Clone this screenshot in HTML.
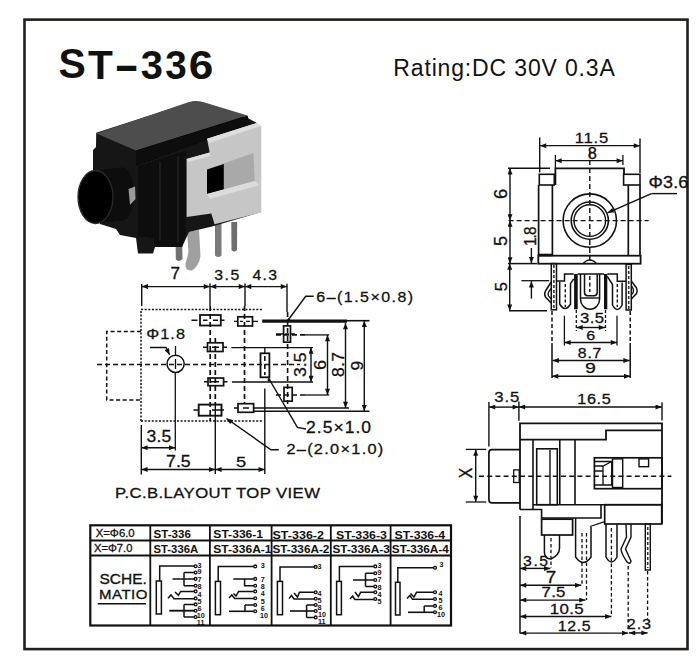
<!DOCTYPE html>
<html><head><meta charset="utf-8">
<style>
html,body{margin:0;padding:0;background:#fff;}
svg{display:block;}
text{font-family:"Liberation Sans",sans-serif;fill:#111;}
</style></head>
<body>
<svg width="700" height="660" viewBox="0 0 700 660">
<defs>
<marker id="ar" viewBox="0 0 10 8" refX="10" refY="4" markerWidth="7" markerHeight="5" orient="auto-start-reverse" markerUnits="userSpaceOnUse"><path d="M0,0 L10,4 L0,8 z" fill="#111"/></marker>
<filter id="bl" x="-5%" y="-5%" width="110%" height="110%"><feGaussianBlur stdDeviation="0.6"/></filter>
</defs>
<rect width="700" height="660" fill="#fff"/>
<rect x="24.5" y="19.6" width="663" height="629.5" fill="none" stroke="#231f1c" stroke-width="2.6"/>
<text x="393.3" y="75.6" font-size="23" textLength="221.5" lengthAdjust="spacing" fill="#1a1a1a">Rating:DC 30V 0.3A</text>
<g filter="url(#bl)">
<!-- pins -->
<path d="M175.5,232 L182,232 L182.5,259 Q179,262.5 175.8,259.5 Z" fill="#707070"/>
<path d="M187,232 L199,230 L200.5,256 Q199,266 192,270.5 Q185,271 185.5,264 L188.5,252 Z" fill="#a0a0a0"/>
<path d="M215,224 L221.5,224 L221.5,255.5 Q218.2,258.5 215,255.5 Z" fill="#7a7a7a"/>
<path d="M231.3,222 L237.2,222 L237,250 Q234.2,253 231.5,250 Z" fill="#6e6e6e"/>
<!-- black body -->
<path d="M96.2,132.8 L195,101 L247.5,118 L257,123 L261,212 L214,226 L189,232 L182,247 L155,247 L153,253.5 L138,253.5 L136,238 L120,235 L116,229 L100,224 L93,200 L93,150 L96,147 Z" fill="#191919"/>
<!-- jack cylinder -->
<path d="M95.5,170.5 L123,167.5 L123,220.5 L95.5,223.5 Z" fill="#0a0a0a"/>
<ellipse cx="123" cy="194" rx="11" ry="26.5" fill="#0a0a0a"/>
<ellipse cx="95.5" cy="197" rx="17.5" ry="26.5" fill="#060606" stroke="#2c2c2c" stroke-width="1.3"/>
<ellipse cx="97" cy="197.5" rx="12.5" ry="21.5" fill="#020202"/>
<path d="M128.5,189 L135,186.5 L135.5,199 L130,205 Z" fill="#9a9a9a"/>
<!-- front face -->
<path d="M137.7,166 L186.6,150 L186.6,232 L182,247 L155,247 L153,238 L137.7,237 Z" fill="#101010"/>
<path d="M160,162 L160,240 M178,156 L178,242" stroke="#242424" stroke-width="1"/>
<!-- top face -->
<path d="M96.4,133.4 L189,102 Q196,99.8 203,102 L247.5,115.5 L136,150.5 Z" fill="#4e4e4e"/>
<path d="M136,150.5 L247.5,115.5 L250,124 L136,166 Z" fill="#070707"/>
<!-- bracket -->
<path d="M207,138.7 L256.7,122.9 L261.3,126 L261.3,212.4 L214.6,224.2 L211.3,213.4 L186.6,217 L186.6,159 L209.7,152.5 Z" fill="#c6c6c6"/>
<path d="M207,138.7 L256.7,122.9 L261.3,126 L209,143 Z" fill="#dedede"/>
<path d="M186.6,159 L209.7,152.5 L210.5,156 L188.5,162 Z" fill="#dcdcdc"/>
<path d="M207,169.5 L253.4,153 L254.7,181 L207,194 Z" fill="#a9a9a9"/>
<path d="M207,169.5 L223.8,164 L223.8,189.5 L207,194 Z" fill="#040404"/>
<path d="M207,194 L254.7,181 L259.5,185 L210,199 Z" fill="#dcdcdc"/>
</g>

<g fill="none" stroke="#111" stroke-width="1.3">
<!-- 11.5 dim -->
<line x1="540" y1="145.7" x2="640" y2="145.7" marker-start="url(#ar)" marker-end="url(#ar)"/>
<line x1="539.7" y1="137.5" x2="539.7" y2="172.5" stroke-width="1.4"/>
<line x1="640" y1="138.5" x2="640" y2="173" stroke-width="1.4"/>
<!-- 8 dim -->
<line x1="555.4" y1="160.7" x2="622.9" y2="160.7" marker-start="url(#ar)" marker-end="url(#ar)"/>
<line x1="555.4" y1="155" x2="555.4" y2="168" stroke-width="1.3"/>
<line x1="622.9" y1="155" x2="622.9" y2="165" stroke-width="1.3"/>
<!-- top line -->
<line x1="508" y1="168.3" x2="550" y2="168.3" stroke-width="1.5"/>
<path d="M555.4,185 L555.4,168.3 L624,168.3 L624,174" stroke-width="1.8"/>
<!-- ears -->
<rect x="539.3" y="174.3" width="15" height="10.7" stroke-width="1.6"/>
<rect x="623.6" y="174.3" width="16.4" height="10.7" stroke-width="1.6"/>
<!-- walls -->
<path d="M538.6,185 L538.6,255 M552.4,185 L552.4,255" stroke-width="1.7"/>
<path d="M628.3,185 L628.3,255 M640,185 L640,255" stroke-width="1.7"/>
<!-- circles -->
<circle cx="589.8" cy="220.6" r="26.7" stroke-width="1.6"/>
<circle cx="589.8" cy="220.6" r="18.6" stroke-width="1.6"/>
<circle cx="589.8" cy="220.6" r="15.8" stroke-width="1.4"/>
<!-- center lines -->
<line x1="508.6" y1="220.6" x2="648.6" y2="220.6" stroke-dasharray="5,3" stroke-width="1.3"/>
<line x1="589.8" y1="152" x2="589.8" y2="262" stroke-dasharray="5,3" stroke-width="1.4"/>
<!-- 6 & 5 dims -->
<line x1="510" y1="168.3" x2="510" y2="220.6" marker-start="url(#ar)" marker-end="url(#ar)" stroke-width="1.4"/>
<line x1="510" y1="220.6" x2="510" y2="263.6" marker-start="url(#ar)" marker-end="url(#ar)" stroke-width="1.4"/>
<!-- base plate -->
<rect x="538.3" y="255.7" width="102.3" height="8" stroke-width="1.8"/>
<line x1="538.3" y1="255" x2="552.4" y2="255" stroke-width="2.6"/>
<line x1="508" y1="263.6" x2="537" y2="263.6" stroke-width="1.5"/>
<!-- 1.8 -->
<line x1="531.4" y1="248" x2="531.4" y2="263.2" marker-end="url(#ar)" stroke-width="1.4"/>
<line x1="531.4" y1="298.6" x2="531.4" y2="281.2" marker-end="url(#ar)" stroke-width="1.4"/>
<line x1="521.4" y1="280.7" x2="549.3" y2="280.7" stroke-width="1.3"/>
<!-- lower 5 -->
<line x1="509.7" y1="263.6" x2="509.7" y2="310.7" marker-start="url(#ar)" marker-end="url(#ar)" stroke-width="1.4"/>
<line x1="509" y1="310.7" x2="547" y2="310.7" stroke-width="1.5"/>
<!-- left outer pin -->
<rect x="551.3" y="263.6" width="5.2" height="46.2" stroke-width="1.5"/>
<line x1="553.9" y1="265" x2="553.9" y2="309" stroke-dasharray="3,2" stroke-width="1.6" stroke="#333"/>
<path d="M551.2,282 L545.5,291 Q543.8,294.1 545.5,297 L551.2,303" stroke-width="1.5"/>
<path d="M551.2,288.5 L548.5,292 Q547.6,294 548.5,296 L551.2,299" stroke-width="1.3"/>
<!-- pin 2 -->
<path d="M556.5,280.9 L564.5,280.9 L564.5,274 L573.7,274" stroke-width="1.5"/>
<path d="M559.7,281.7 L559.7,304 Q565.1,313 570.5,304 L570.5,283.7 L573.7,278.9" stroke-width="1.5"/>
<line x1="565.3" y1="284" x2="565.3" y2="307" stroke-dasharray="3,2.2" stroke-width="1.4"/>
<!-- thick pins -->
<rect x="574.1" y="274" width="3.6" height="35.3" fill="#111" stroke="none"/>
<rect x="604" y="274" width="3.3" height="35.3" fill="#111" stroke="none"/>
<!-- socket -->
<path d="M580.5,274 L580.5,299 A9.55,10.3 0 0 0 599.6,299 L599.6,274" stroke-width="1.5"/>
<path d="M584.5,274 L584.5,292.5 Q584.5,295.7 587.7,295.7 L594,295.7 Q597.2,295.7 597.2,292.5 L597.2,274" stroke-width="1.5"/>
<line x1="580.5" y1="298" x2="599.6" y2="298" stroke-width="1.4"/>
<line x1="577.7" y1="274" x2="604" y2="274" stroke-width="1.5"/>
<line x1="589.8" y1="276" x2="589.8" y2="292" stroke-dasharray="4,2.5" stroke-width="1.4"/>
<path d="M583,263.6 Q589.8,256 596.6,263.6" stroke-width="1.3"/>
<!-- pin 5 -->
<path d="M607.3,274 L617.3,274 L617.3,281.3 L626.1,281.3" stroke-width="1.5"/>
<path d="M607.3,276.4 L612.5,284.5 L612.5,305 Q617.3,314 622.1,305 L622.1,282.5" stroke-width="1.5"/>
<line x1="617.3" y1="284" x2="617.3" y2="307" stroke-dasharray="3,2.2" stroke-width="1.4"/>
<!-- right outer pin -->
<rect x="626.1" y="264.4" width="5.2" height="45.6" stroke-width="1.5"/>
<line x1="628.7" y1="266" x2="628.7" y2="309" stroke-dasharray="3,2" stroke-width="1.6" stroke="#333"/>
<path d="M631.3,280.9 L636.5,288 Q637.8,290.9 636.5,293.5 L631.3,298.9" stroke-width="1.5"/>
<path d="M631.3,285.3 L633.2,289 Q633.7,290.9 633.2,292.5 L631.3,294.9" stroke-width="1.3"/>
<!-- ext lines below -->
<path d="M552,311 L552,343" stroke-dasharray="4,2.5" stroke-width="1.5"/>
<path d="M552,343 L552,378" stroke-width="1.5"/>
<path d="M630.2,311 L630.2,343" stroke-dasharray="4,2.5" stroke-width="1.5"/>
<path d="M630.2,343 L630.2,378" stroke-width="1.5"/>
<line x1="564.4" y1="315.7" x2="564.4" y2="345.6" stroke-width="1.3"/>
<line x1="617" y1="315.7" x2="617" y2="345.6" stroke-width="1.3"/>
<line x1="576.3" y1="310" x2="576.3" y2="331" stroke-dasharray="3,2" stroke-width="1.3"/>
<line x1="605.5" y1="310" x2="605.5" y2="331" stroke-dasharray="3,2" stroke-width="1.3"/>
<!-- dims -->
<line x1="576.5" y1="327.5" x2="605" y2="327.5" marker-start="url(#ar)" marker-end="url(#ar)" stroke-width="1.4"/>
<line x1="564.4" y1="342.5" x2="617" y2="342.5" marker-start="url(#ar)" marker-end="url(#ar)" stroke-width="1.4"/>
<line x1="552.6" y1="360.5" x2="629.6" y2="360.5" marker-start="url(#ar)" marker-end="url(#ar)" stroke-width="1.4"/>
<line x1="552" y1="376.2" x2="630.2" y2="376.2" marker-start="url(#ar)" marker-end="url(#ar)" stroke-width="1.4"/>
<!-- leader phi3.6 -->
<line x1="651.4" y1="193.6" x2="677" y2="193.6" stroke-width="1.4"/>
<line x1="651.4" y1="193.6" x2="607.5" y2="212.8" marker-end="url(#ar)" stroke-width="1.4"/>
</g>

<g fill="none" stroke="#111" stroke-width="1.4">
<!-- top dims -->
<line x1="141.7" y1="286.6" x2="210" y2="286.6" marker-start="url(#ar)" marker-end="url(#ar)"/>
<line x1="210" y1="286.6" x2="245" y2="286.6" marker-start="url(#ar)" marker-end="url(#ar)"/>
<line x1="245" y1="286.6" x2="287" y2="286.6" marker-start="url(#ar)" marker-end="url(#ar)"/>
<line x1="141.7" y1="284" x2="141.7" y2="306" stroke-width="1.4"/>
<line x1="210" y1="283.6" x2="210" y2="306" stroke-width="1.4"/>
<line x1="245" y1="283.6" x2="245" y2="306" stroke-width="1.4"/>
<line x1="287" y1="283.7" x2="287" y2="312" stroke-width="1.4"/>
<!-- dotted outline -->
<path d="M141,421 L141,309.5 L262,309.5 M141,421 L262,421" stroke-dasharray="2,1.6" stroke-width="1.5"/>
<!-- dashed jack -->
<path d="M141,331.5 L106.7,331.5 L106.7,400 L141,400" stroke-dasharray="4,2.6" stroke-width="1.5"/>
<!-- center dashed -->
<line x1="97" y1="364.5" x2="300" y2="364.5" stroke-dasharray="5,3" stroke-width="1.7"/>
<line x1="175.5" y1="346" x2="175.5" y2="355" stroke-width="1.3"/>
<circle cx="175.6" cy="363.8" r="8.6" stroke-width="1.5"/>
<line x1="175.5" y1="359" x2="175.5" y2="369" stroke-width="1.3"/>
<line x1="175.3" y1="373" x2="175.3" y2="450.6" stroke-width="1.3"/>
<!-- phi1.8 leader -->
<path d="M150,347.5 L166,347.5 L169.6,354.8" marker-end="url(#ar)" stroke-width="1.4"/>
<!-- vertical center lines -->
<line x1="210.2" y1="306" x2="210.2" y2="421" stroke-dasharray="5,3" stroke-width="1.7"/>
<line x1="215.3" y1="338" x2="215.3" y2="404" stroke-dasharray="5,3" stroke-width="1.7"/>
<line x1="215.3" y1="404" x2="215.3" y2="474" stroke-width="1.4"/>
<line x1="244.5" y1="306" x2="244.5" y2="404" stroke-dasharray="5,3" stroke-width="1.7"/>
<line x1="264.8" y1="347" x2="264.8" y2="353" stroke-width="1.3"/>
<line x1="264.8" y1="356" x2="264.8" y2="375" stroke-dasharray="5,3" stroke-width="1.6"/>
<line x1="264.8" y1="388.5" x2="264.8" y2="474" stroke-width="1.4"/>
<line x1="287.6" y1="312" x2="287.6" y2="404" stroke-dasharray="5,3" stroke-width="1.6"/>
<!-- pads -->
<rect x="200" y="315" width="20.8" height="10.5" stroke-width="1.8"/>
<path d="M191.5,320.2 L197.5,320.2 M220.8,320.2 L224.5,320.2 M203,320.2 L207.5,320.2 M213,320.2 L218,320.2" stroke-width="1.5"/>
<rect x="237.8" y="316.8" width="14.7" height="9.2" stroke-width="1.7"/>
<path d="M234,321.4 L237.8,321.4 M252.5,321.4 L258,321.4 M240,321.4 L243,321.4 M246,321.4 L250,321.4" stroke-width="1.4"/>
<rect x="283.6" y="325.9" width="6.9" height="16.3" stroke-width="1.7"/>
<path d="M276,334 L283.6,334 M290.5,334 L295,334 M285,334 L289,334" stroke-width="1.3"/>
<rect x="207.5" y="342.8" width="15.5" height="8.7" stroke-width="1.7"/>
<path d="M203,347.2 L207.5,347.2 M223,347.2 L227,347.2 M212,347.2 L219,347.2" stroke-width="1.4"/>
<rect x="260.5" y="353.3" width="8.9" height="24" stroke-width="1.8"/>
<rect x="208" y="378" width="15.6" height="7.7" stroke-width="1.7"/>
<path d="M204,381.8 L208,381.8 M223.6,381.8 L227.5,381.8 M211,381.8 L219,381.8" stroke-width="1.4"/>
<rect x="284" y="387.4" width="8.2" height="13.8" stroke-width="1.7"/>
<rect x="198.7" y="404.6" width="22.8" height="11.1" stroke-width="1.9"/>
<path d="M193.5,410 L198.7,410 M221.5,410 L224,410 M212,410 L221,410" stroke-width="1.5"/>
<rect x="238" y="403.7" width="15.6" height="8.6" stroke-width="1.7"/>
<path d="M234,408 L238,408 M243,408 L249,408" stroke-width="1.4"/>
<!-- horizontal lines right -->
<line x1="262.2" y1="321.2" x2="347" y2="321.2" stroke-width="3.2"/>
<line x1="347" y1="320.7" x2="369.5" y2="320.7" stroke-width="1.6"/>
<line x1="276" y1="334.9" x2="305" y2="334.9" stroke-dasharray="5,3" stroke-width="1.6"/>
<line x1="305" y1="334.9" x2="329.2" y2="334.9" stroke-width="1.3"/>
<line x1="231.3" y1="347.6" x2="312.9" y2="347.6" stroke-width="1.3"/>
<line x1="232" y1="382" x2="313" y2="382" stroke-width="1.3"/>
<line x1="276" y1="395" x2="305" y2="395" stroke-dasharray="5,3" stroke-width="1.6"/>
<line x1="305" y1="395" x2="329.2" y2="395" stroke-width="1.3"/>
<line x1="253.6" y1="408" x2="349" y2="408" stroke-width="1.4"/>
<line x1="253.6" y1="411.2" x2="369.5" y2="411.2" stroke-width="1.4"/>
<!-- vertical dims -->
<line x1="364.3" y1="320.7" x2="364.3" y2="411.2" marker-start="url(#ar)" marker-end="url(#ar)"/>
<line x1="345.5" y1="322.9" x2="345.5" y2="408" marker-start="url(#ar)" marker-end="url(#ar)"/>
<line x1="327.5" y1="334.9" x2="327.5" y2="395" marker-start="url(#ar)" marker-end="url(#ar)"/>
<line x1="311" y1="347.6" x2="311" y2="382" marker-start="url(#ar)" marker-end="url(#ar)"/>
<!-- leaders -->
<path d="M313.7,296.3 L305.7,296.3 L288.6,319.5" stroke-width="1.4"/>
<circle cx="288.6" cy="320.2" r="1.6" fill="#111" stroke="none"/>
<path d="M268.5,378 L297.4,427.4 L306,429" stroke-width="1.4"/>
<circle cx="269" cy="380" r="1.5" fill="#111" stroke="none"/>
<path d="M278.8,449.7 L271,449.7 L226.5,418.5" marker-end="url(#ar)" stroke-width="1.4"/>
<!-- bottom dims -->
<line x1="141.3" y1="424.9" x2="141.3" y2="474.6" stroke-width="1.4"/>
<line x1="141.3" y1="447.7" x2="175.3" y2="447.7" marker-start="url(#ar)" marker-end="url(#ar)"/>
<line x1="141.3" y1="469.5" x2="215.3" y2="469.5" marker-start="url(#ar)" marker-end="url(#ar)"/>
<line x1="215.3" y1="469.5" x2="264.8" y2="469.5" marker-start="url(#ar)" marker-end="url(#ar)"/>
</g>

<g fill="none" stroke="#111" stroke-width="1.4">
<!-- top dims -->
<line x1="489" y1="407.1" x2="518.9" y2="407.1" marker-start="url(#ar)" marker-end="url(#ar)"/>
<line x1="518.9" y1="407" x2="661.8" y2="407" marker-start="url(#ar)" marker-end="url(#ar)"/>
<line x1="488.9" y1="402" x2="488.9" y2="446.4" stroke-width="1.4"/>
<line x1="518.9" y1="401.4" x2="518.9" y2="420.7" stroke-width="1.4"/>
<line x1="662" y1="402.3" x2="662" y2="420.4" stroke-width="1.4"/>
<!-- body outline -->
<path d="M520,509.5 L520,423.3 L662,423.3 L662,524" stroke-width="1.8"/>
<path d="M520,439.7 L606,439.7 L606,430.3 L662,430.3" stroke-width="1.8"/>
<line x1="533" y1="439.7" x2="533" y2="509.5" stroke-width="1.6"/>
<line x1="559.8" y1="439.7" x2="559.8" y2="504.7" stroke-width="1.6"/>
<line x1="575" y1="439.7" x2="575" y2="504.7" stroke-width="1.6"/>
<rect x="536.7" y="448.8" width="20.6" height="55.9" stroke-width="1.6"/>
<line x1="550" y1="449.7" x2="550" y2="504.8" stroke-width="1.4"/>

<!-- right inner rect -->
<rect x="594.4" y="457.8" width="67.6" height="30.9" stroke-width="1.7"/>
<path d="M594.4,461.5 L611.7,461.5 L611.7,485 L594.4,485 M594.4,466 L603,466 L611.7,461.5 M603,466 L603,485 M594.4,471 L603,471" stroke-width="1.3"/>
<rect x="612.5" y="458.9" width="10.2" height="28.6" stroke-width="1.4"/>
<rect x="639" y="458.9" width="9.6" height="7.8" stroke-width="1.4"/>
<!-- lower body -->
<line x1="533" y1="504.7" x2="662" y2="504.7" stroke-width="1.6"/>
<path d="M520,509.5 L541.6,509.5 L541.6,518 L601,518 L601,504.7" stroke-width="1.6"/>
<rect x="604.7" y="504.7" width="57" height="19.3" stroke-width="1.7"/>
<rect x="541.6" y="519.2" width="31" height="15.8" stroke-width="1.7"/>
<path d="M590,526.5 L604.7,521.7" stroke-width="1.3"/>
<!-- jack front -->
<path d="M520,449.7 L492,449.7 Q488.9,449.7 488.9,453 L488.9,499.5 Q488.9,502.9 492,502.9 L520,502.9" stroke-width="1.7"/>
<rect x="513.7" y="469.9" width="5.5" height="12.6" stroke-width="1.3"/>
<!-- center dashed -->
<line x1="479" y1="476.2" x2="671.4" y2="476.2" stroke-dasharray="5,3.2" stroke-width="1.4"/>
<!-- X dim -->
<line x1="475.7" y1="449.4" x2="475.7" y2="502" marker-start="url(#ar)" marker-end="url(#ar)"/>
<line x1="465.8" y1="449.4" x2="486.2" y2="449.4" stroke-width="1.3"/>
<line x1="465.8" y1="502" x2="486.2" y2="502" stroke-width="1.3"/>
<!-- pins -->
<path d="M544.4,535 L544.4,552 Q544.4,559 551,559 Q559.5,555 559.5,548 L559.5,535" stroke-width="1.5"/>
<line x1="551" y1="538" x2="551" y2="568" stroke-dasharray="3.5,2.4" stroke-width="1.3"/>
<path d="M575.6,518 L575.6,557 Q583.3,568 591,557 L591,527" stroke-width="1.5"/>
<line x1="582" y1="533" x2="582" y2="585.3" stroke-dasharray="3.5,2.4" stroke-width="1.3"/>
<line x1="586.5" y1="533" x2="586.5" y2="600" stroke-dasharray="3.5,2.4" stroke-width="1.3"/>
<path d="M606,524 L606,557 Q611.5,567 617,557 L617,524" stroke-width="1.5"/>
<line x1="611.4" y1="528" x2="611.4" y2="615.5" stroke-dasharray="3.5,2.4" stroke-width="1.3"/>
<path d="M626,524 L626.5,537 L621,549 Q621.5,554 627,562 Q630,565 631,561 L625.5,549 L631,537 L631,524" stroke-width="1.4"/>
<rect x="645.3" y="524" width="5" height="46" stroke-width="1.4"/>
<line x1="647.8" y1="527" x2="647.8" y2="568" stroke-dasharray="3,2" stroke-width="1.3"/>
<line x1="628.2" y1="566" x2="628.2" y2="631" stroke-dasharray="3.5,2.4" stroke-width="1.3"/>
<line x1="647.6" y1="571" x2="647.6" y2="619" stroke-dasharray="3.5,2.4" stroke-width="1.3"/>
<!-- bottom dims -->
<line x1="520" y1="516" x2="520" y2="633.6" stroke-width="1.5"/>
<line x1="520" y1="568.4" x2="550.3" y2="568.4" marker-start="url(#ar)" marker-end="url(#ar)"/>
<line x1="520" y1="585.3" x2="581.3" y2="585.3" marker-start="url(#ar)" marker-end="url(#ar)"/>
<line x1="520" y1="600.1" x2="585.5" y2="600.1" marker-start="url(#ar)" marker-end="url(#ar)"/>
<line x1="520" y1="616.5" x2="611.4" y2="616.5" marker-start="url(#ar)" marker-end="url(#ar)"/>
<line x1="520" y1="633.1" x2="628.2" y2="633.1" marker-start="url(#ar)" marker-end="url(#ar)"/>
<line x1="629" y1="632.9" x2="647.6" y2="632.9" marker-start="url(#ar)" marker-end="url(#ar)"/>
</g>

<g fill="none" stroke="#111">
<rect x="90.3" y="525.3" width="360.7" height="100.2" stroke-width="2.2"/>
<path d="M90.3,540.5 L451,540.5 M90.3,555.5 L451,555.5" stroke-width="1.8"/>
<path d="M150.3,525.3 L150.3,625.5 M209.9,525.3 L209.9,625.5 M271.6,525.3 L271.6,625.5 M330.8,525.3 L330.8,625.5 M390.6,525.3 L390.6,625.5" stroke-width="1.8"/>
<line x1="97.7" y1="603.8" x2="146" y2="603.8" stroke-width="1.6"/>
</g>
<g fill="none" stroke="#111" stroke-width="1.5">
<!-- col1 -->
<rect x="156.3" y="581" width="5.1" height="33" stroke-width="1.5"/>
<path d="M159.7,581 L159.7,565.9 L194.2,565.9"/>
<path d="M172.5,578.9 L194.2,578.9 M184,572.6 L184,585.7 M184,572.6 L194.2,572.6 M184,585.7 L194.2,585.7"/>
<path d="M175,592 L178.4,595.4 L180.7,591.4 L194.2,591.4"/>
<path d="M168,598.3 L171,594.9 L173.9,598.7 L194.2,598.7"/>
<path d="M169.3,610.7 L194.2,610.7" stroke-width="1.9"/>
<path d="M184,604.4 L184,617 M184,604.4 L194.2,604.4 M184,617 L194.2,617"/>
<g stroke-width="1.3">
<circle cx="195.6" cy="566.3" r="1.4"/><circle cx="195.6" cy="572.6" r="1.4"/><circle cx="195.6" cy="578.9" r="1.4"/><circle cx="195.6" cy="585.7" r="1.4"/><circle cx="195.6" cy="591.4" r="1.4"/><circle cx="195.6" cy="598.4" r="1.4"/><circle cx="195.6" cy="604.4" r="1.4"/><circle cx="195.6" cy="610.7" r="1.4"/><circle cx="195.6" cy="617" r="1.4"/>
</g>
<!-- col2 -->
<rect x="215.4" y="581.4" width="5.1" height="33.3" stroke-width="1.5"/>
<path d="M218.2,581.4 L218.2,566.4 L253.8,566.4"/>
<path d="M233.3,578.9 L253.8,578.9 M244.6,578.9 L244.6,585.7 L253.8,585.7"/>
<path d="M233.5,593.5 L236,596 L238.6,591.4 L253.8,591.4"/>
<path d="M229,598 L231.8,595 L234.7,598.5 L253.8,598.5"/>
<path d="M245,605 L245,611.3 M245,605 L253.8,605"/>
<path d="M229,611.3 L253.8,611.3" stroke-width="1.6"/>
<g stroke-width="1.3">
<circle cx="255.2" cy="566.4" r="1.4"/><circle cx="255.2" cy="578.9" r="1.4"/><circle cx="255.2" cy="585.7" r="1.4"/><circle cx="255.2" cy="591.4" r="1.4"/><circle cx="255.2" cy="598.3" r="1.4"/><circle cx="255.2" cy="605" r="1.4"/><circle cx="255.2" cy="611.3" r="1.4"/>
</g>
<!-- col3 -->
<rect x="277.4" y="581.4" width="5.1" height="33.3" stroke-width="1.5"/>
<path d="M280,581.4 L280,566.9 L314.4,566.9"/>
<path d="M294,593 L297.5,597 L299.5,592.3 L314.4,592.3"/>
<path d="M289,598.6 L291.5,595.5 L294,599 L314.4,599"/>
<path d="M306.6,605 L306.6,617.4 M306.6,605 L314.4,605 M306.6,617.4 L314.4,617.4"/>
<path d="M290,611 L314.4,611" stroke-width="1.6"/>
<g stroke-width="1.3">
<circle cx="315.7" cy="566.9" r="1.4"/><circle cx="315.7" cy="592.3" r="1.4"/><circle cx="315.7" cy="598.8" r="1.4"/><circle cx="315.7" cy="605" r="1.4"/><circle cx="315.7" cy="611" r="1.4"/><circle cx="315.7" cy="617.4" r="1.4"/>
</g>
<!-- col4 -->
<rect x="336.6" y="581.4" width="4.8" height="33.3" stroke-width="1.5"/>
<path d="M339.4,581.4 L339.4,566.4 L374,566.4"/>
<path d="M353,580 L374,580 M365.5,573.3 L365.5,586.6 M365.5,573.3 L374,573.3 M365.5,586.6 L374,586.6"/>
<path d="M355,592 L358.4,596.5 L360.6,592.3 L374,592.3"/>
<path d="M350,599 L352.6,596 L354.8,599.5 L374,599.5"/>
<g stroke-width="1.3">
<circle cx="375.3" cy="566.4" r="1.4"/><circle cx="375.3" cy="573.3" r="1.4"/><circle cx="375.3" cy="580" r="1.4"/><circle cx="375.3" cy="586.6" r="1.4"/><circle cx="375.3" cy="592.3" r="1.4"/><circle cx="375.3" cy="599" r="1.4"/>
</g>
<!-- col5 -->
<rect x="395.5" y="582.3" width="4.5" height="32.7" stroke-width="1.5"/>
<path d="M397.8,582.3 L397.8,567.7 L433.5,567.7"/>
<path d="M410.5,593.5 L414,597 L416.5,592.3 L433.5,592.3"/>
<path d="M407,598.6 L410,595.5 L412.5,599.3 L433.5,599.3"/>
<path d="M424.2,605.9 L424.2,612.3 M424.2,605.9 L433.5,605.9"/>
<path d="M408,612.3 L433.5,612.3" stroke-width="1.6"/>
<g stroke-width="1.3">
<circle cx="435" cy="567.7" r="1.4"/><circle cx="435" cy="592.3" r="1.4"/><circle cx="435" cy="599" r="1.4"/><circle cx="435" cy="605.9" r="1.4"/><circle cx="435" cy="612.3" r="1.4"/>
</g>
</g>
<g font-size="7.2" font-weight="bold" style="font-family:'Liberation Sans',sans-serif" fill="#111">
<text x="197.5" y="567.6">3</text><text x="197.5" y="574.4">9</text><text x="197.5" y="581.7">7</text><text x="197.5" y="589">8</text><text x="197.5" y="597">4</text><text x="197.5" y="603.9">5</text><text x="197.5" y="610.7">6</text><text x="196.8" y="617.5">10</text><text x="196.8" y="624.9">11</text>
<text x="260.8" y="567.5">3</text><text x="260.8" y="581.5">7</text><text x="260.8" y="589">8</text><text x="260.8" y="596">4</text><text x="260.8" y="603.5">5</text><text x="260.8" y="610.5">6</text><text x="260" y="617.5">10</text>
<text x="317.5" y="568.5">3</text><text x="317.5" y="596">4</text><text x="317.5" y="603">5</text><text x="317.5" y="609.5">8</text><text x="318" y="616.5">10</text><text x="318" y="623.8">11</text>
<text x="377.5" y="568">3</text><text x="377.5" y="575">9</text><text x="377.5" y="582">7</text><text x="377.5" y="589.5">8</text><text x="377.5" y="596.5">4</text><text x="377.5" y="604">5</text>
<text x="439.5" y="567">3</text><text x="438.5" y="596">4</text><text x="438.5" y="602.5">5</text><text x="438.5" y="609.5">6</text><text x="437" y="617">10</text>
</g>

<text transform="matrix(0.41000,0,0,0.42676,17.470,-6.879)" font-size="100" font-weight="bold" stroke="#111" stroke-width="0.00"><tspan x="100" y="200">S</tspan></text>
<text transform="matrix(0.40678,0,0,0.41449,47.215,-4.299)" font-size="100" font-weight="bold" stroke="#111" stroke-width="0.00"><tspan x="100" y="200">T</tspan></text>
<text transform="matrix(0.39000,0,0,0.51000,76.730,-19.980)" font-size="100" font-weight="bold" stroke="#111" stroke-width="0.00"><tspan x="100" y="200">–</tspan></text>
<text transform="matrix(0.39800,0,0,0.41127,101.004,-3.665)" font-size="100" font-weight="bold" stroke="#111" stroke-width="0.00"><tspan x="100" y="200">3</tspan></text>
<text transform="matrix(0.38600,0,0,0.41127,126.628,-3.665)" font-size="100" font-weight="bold" stroke="#111" stroke-width="0.00"><tspan x="100" y="200">3</tspan></text>
<text transform="matrix(0.44167,0,0,0.41127,144.467,-3.665)" font-size="100" font-weight="bold" stroke="#111" stroke-width="0.00"><tspan x="100" y="200">6</tspan></text>
<text transform="matrix(0.16640,0,0,0.14857,558.029,113.137)" font-size="100" font-weight="normal" stroke="#111" stroke-width="1.90" letter-spacing="4.97"><tspan x="100" y="200">11.5</tspan></text>
<text transform="matrix(0.16383,0,0,0.15775,571.262,127.393)" font-size="100" font-weight="normal" stroke="#111" stroke-width="1.87"><tspan x="100" y="200">8</tspan></text>
<text transform="matrix(0.17983,0,0,0.16056,630.538,155.927)" font-size="100" font-weight="normal" stroke="#111" stroke-width="1.76" letter-spacing="0.92"><tspan x="100" y="200">Φ3.6</tspan></text>
<text transform="matrix(0,-0.18478,0.17606,0,472.013,217.402)" font-size="100" font-weight="normal" stroke="#111" stroke-width="1.66"><tspan x="100" y="200">6</tspan></text>
<text transform="matrix(0,-0.18085,0.17429,0,472.069,264.009)" font-size="100" font-weight="normal" stroke="#111" stroke-width="1.69"><tspan x="100" y="200">5</tspan></text>
<text transform="matrix(0,-0.15290,0.16620,0,502.894,261.313)" font-size="100" font-weight="normal" stroke="#111" stroke-width="1.88" letter-spacing="-5.62"><tspan x="100" y="200">1.8</tspan></text>
<text transform="matrix(0,-0.16383,0.17000,0,472.730,307.738)" font-size="100" font-weight="normal" stroke="#111" stroke-width="1.80"><tspan x="100" y="200">5</tspan></text>
<text transform="matrix(0.16721,0,0,0.14930,563.210,292.692)" font-size="100" font-weight="normal" stroke="#111" stroke-width="1.90" letter-spacing="2.68"><tspan x="100" y="200">3.5</tspan></text>
<text transform="matrix(0.16087,0,0,0.13521,570.109,312.523)" font-size="100" font-weight="normal" stroke="#111" stroke-width="2.03"><tspan x="100" y="200">6</tspan></text>
<text transform="matrix(0.15775,0,0,0.14085,562.094,329.690)" font-size="100" font-weight="normal" stroke="#111" stroke-width="2.01" letter-spacing="4.73"><tspan x="100" y="200">8.7</tspan></text>
<text transform="matrix(0.19565,0,0,0.15493,565.457,341.859)" font-size="100" font-weight="normal" stroke="#111" stroke-width="1.71"><tspan x="100" y="200">9</tspan></text>
<text transform="matrix(0.17174,0,0,0.15735,153.367,247.287)" font-size="100" font-weight="normal" stroke="#111" stroke-width="1.82"><tspan x="100" y="200">7</tspan></text>
<text transform="matrix(0.15775,0,0,0.14085,198.594,251.690)" font-size="100" font-weight="normal" stroke="#111" stroke-width="2.01" letter-spacing="9.30"><tspan x="100" y="200">3.5</tspan></text>
<text transform="matrix(0.15775,0,0,0.14085,236.810,251.690)" font-size="100" font-weight="normal" stroke="#111" stroke-width="2.01" letter-spacing="7.99"><tspan x="100" y="200">4.3</tspan></text>
<text transform="matrix(0.16248,0,0,0.14507,130.077,309.741)" font-size="100" font-weight="normal" stroke="#111" stroke-width="1.95" letter-spacing="6.37"><tspan x="100" y="200">Φ1.8</tspan></text>
<text transform="matrix(0.15966,0,0,0.14255,300.336,273.196)" font-size="100" font-weight="normal" stroke="#111" stroke-width="1.99" letter-spacing="9.26"><tspan x="100" y="200">6–(1.5×0.8)</tspan></text>
<text transform="matrix(0,-0.17557,0.16197,0,273.644,394.460)" font-size="100" font-weight="normal" stroke="#111" stroke-width="1.78"><tspan x="100" y="200">3.5</tspan></text>
<text transform="matrix(0,-0.18261,0.15915,0,294.110,388.274)" font-size="100" font-weight="normal" stroke="#111" stroke-width="1.76"><tspan x="100" y="200">6</tspan></text>
<text transform="matrix(0,-0.17510,0.15634,0,312.576,394.510)" font-size="100" font-weight="normal" stroke="#111" stroke-width="1.81" letter-spacing="1.82"><tspan x="100" y="200">8.7</tspan></text>
<text transform="matrix(0,-0.17391,0.16197,0,330.344,387.961)" font-size="100" font-weight="normal" stroke="#111" stroke-width="1.79"><tspan x="100" y="200">9</tspan></text>
<text transform="matrix(0.17510,0,0,0.15634,288.515,401.976)" font-size="100" font-weight="normal" stroke="#111" stroke-width="1.81" letter-spacing="5.85"><tspan x="100" y="200">2.5×1.0</tspan></text>
<text transform="matrix(0.16323,0,0,0.14574,270.060,424.390)" font-size="100" font-weight="normal" stroke="#111" stroke-width="1.94" letter-spacing="7.96"><tspan x="100" y="200">2–(2.0×1.0)</tspan></text>
<text transform="matrix(0.17510,0,0,0.15634,129.090,410.576)" font-size="100" font-weight="normal" stroke="#111" stroke-width="1.81" letter-spacing="0.75"><tspan x="100" y="200">3.5</tspan></text>
<text transform="matrix(0.17692,0,0,0.16000,148.423,434.740)" font-size="100" font-weight="normal" stroke="#111" stroke-width="1.78"><tspan x="100" y="200">7.5</tspan></text>
<text transform="matrix(0.18298,0,0,0.14857,217.670,437.137)" font-size="100" font-weight="normal" stroke="#111" stroke-width="1.81"><tspan x="100" y="200">5</tspan></text>
<text transform="matrix(0.16721,0,0,0.14930,98.341,468.592)" font-size="100" font-weight="normal" stroke="#111" stroke-width="1.90" letter-spacing="2.38"><tspan x="100" y="200">P.C.B.LAYOUT TOP VIEW</tspan></text>
<text transform="matrix(0.16721,0,0,0.14930,477.610,371.992)" font-size="100" font-weight="normal" stroke="#111" stroke-width="1.90" letter-spacing="5.07"><tspan x="100" y="200">3.5</tspan></text>
<text transform="matrix(0.16248,0,0,0.14507,561.052,374.741)" font-size="100" font-weight="normal" stroke="#111" stroke-width="1.95" letter-spacing="3.75"><tspan x="100" y="200">16.5</tspan></text>
<text transform="matrix(0,-0.15738,0.17971,0,436.258,494.010)" font-size="100" font-weight="normal" stroke="#111" stroke-width="1.78"><tspan x="100" y="200">X</tspan></text>
<text transform="matrix(0.15775,0,0,0.14085,507.294,537.490)" font-size="100" font-weight="normal" stroke="#111" stroke-width="2.01" letter-spacing="9.94"><tspan x="100" y="200">3.5</tspan></text>
<text transform="matrix(0.18913,0,0,0.15882,526.841,550.794)" font-size="100" font-weight="normal" stroke="#111" stroke-width="1.72"><tspan x="100" y="200">7</tspan></text>
<text transform="matrix(0.16800,0,0,0.15000,524.760,567.350)" font-size="100" font-weight="normal" stroke="#111" stroke-width="1.89" letter-spacing="1.67"><tspan x="100" y="200">7.5</tspan></text>
<text transform="matrix(0.16879,0,0,0.15070,532.771,583.708)" font-size="100" font-weight="normal" stroke="#111" stroke-width="1.88" letter-spacing="2.13"><tspan x="100" y="200">10.5</tspan></text>
<text transform="matrix(0.15932,0,0,0.14225,541.793,602.107)" font-size="100" font-weight="normal" stroke="#111" stroke-width="1.99" letter-spacing="4.19"><tspan x="100" y="200">12.5</tspan></text>
<text transform="matrix(0.16248,0,0,0.14507,610.440,600.041)" font-size="100" font-weight="normal" stroke="#111" stroke-width="1.95" letter-spacing="5.78"><tspan x="100" y="200">2.3</tspan></text>
<text transform="matrix(0.11365,0,0,0.10423,84.294,515.751)" font-size="100" font-weight="normal" stroke="#111" stroke-width="2.75"><tspan x="100" y="200">X=Φ6.0</tspan></text>
<text transform="matrix(0.11187,0,0,0.10423,82.777,531.151)" font-size="100" font-weight="normal" stroke="#111" stroke-width="2.78"><tspan x="100" y="200">X=Φ7.0</tspan></text>
<text transform="matrix(0.11582,0,0,0.10986,141.970,516.518)" font-size="100" font-weight="bold" stroke="#111" stroke-width="0.00"><tspan x="100" y="200">ST-336</tspan></text>
<text transform="matrix(0.11311,0,0,0.11268,142.250,530.352)" font-size="100" font-weight="bold" stroke="#111" stroke-width="0.00"><tspan x="100" y="200">ST-336A</tspan></text>
<text transform="matrix(0.12118,0,0,0.10986,201.218,516.518)" font-size="100" font-weight="bold" stroke="#111" stroke-width="0.00"><tspan x="100" y="200">ST-336-1</tspan></text>
<text transform="matrix(0.12050,0,0,0.11268,201.288,530.352)" font-size="100" font-weight="bold" stroke="#111" stroke-width="0.00"><tspan x="100" y="200">ST-336A-1</tspan></text>
<text transform="matrix(0.12462,0,0,0.11127,259.964,516.635)" font-size="100" font-weight="bold" stroke="#111" stroke-width="0.00" letter-spacing="0.41"><tspan x="100" y="200">ST-336-2</tspan></text>
<text transform="matrix(0.11803,0,0,0.11831,260.643,529.620)" font-size="100" font-weight="bold" stroke="#111" stroke-width="0.00"><tspan x="100" y="200">ST-336A-2</tspan></text>
<text transform="matrix(0.12370,0,0,0.11127,323.759,516.635)" font-size="100" font-weight="bold" stroke="#111" stroke-width="0.00"><tspan x="100" y="200">ST-336-3</tspan></text>
<text transform="matrix(0.11866,0,0,0.11831,320.578,529.620)" font-size="100" font-weight="bold" stroke="#111" stroke-width="0.00"><tspan x="100" y="200">ST-336A-3</tspan></text>
<text transform="matrix(0.12279,0,0,0.11127,382.352,516.635)" font-size="100" font-weight="bold" stroke="#111" stroke-width="0.00"><tspan x="100" y="200">ST-336-4</tspan></text>
<text transform="matrix(0.11792,0,0,0.11831,380.055,529.620)" font-size="100" font-weight="bold" stroke="#111" stroke-width="0.00"><tspan x="100" y="200">ST-336A-4</tspan></text>
<text transform="matrix(0.15464,0,0,0.14507,84.063,554.941)" font-size="100" font-weight="normal" stroke="#111" stroke-width="2.34"><tspan x="100" y="200">SCHE.</tspan></text>
<text transform="matrix(0.14986,0,0,0.13380,84.115,572.606)" font-size="100" font-weight="normal" stroke="#111" stroke-width="2.47" letter-spacing="3.24"><tspan x="100" y="200">MATIO</tspan></text>
</svg>
</body></html>
